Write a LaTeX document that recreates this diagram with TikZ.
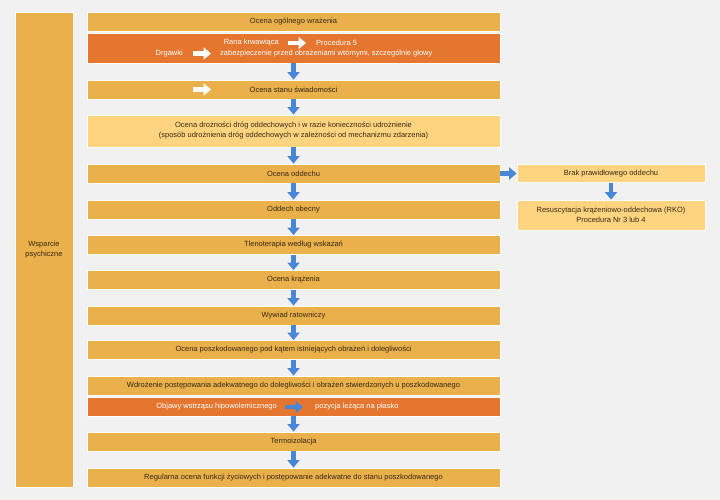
\documentclass[tikz,border=0pt]{standalone}
\usepackage{fontspec}
\setmainfont{Liberation Sans}
\usetikzlibrary{arrows.meta,shadows}
\definecolor{tlo}{RGB}{241,241,241}
\definecolor{zolty}{RGB}{233,176,76}
\definecolor{pomar}{RGB}{229,118,47}
\definecolor{jasny}{RGB}{255,212,128}
\definecolor{niebieski}{RGB}{74,134,214}
\definecolor{tekst}{RGB}{55,40,20}
\begin{document}
\begin{tikzpicture}[x=1pt,y=-1pt,>={Triangle[width=12pt,length=7.5pt]},
	pole/.style={rectangle,draw=white,line width=0.8pt,fill=zolty,text=tekst,font=\fontsize{7.5}{10}\selectfont,align=center,inner sep=0pt,minimum height=19pt,drop shadow={shadow xshift=0.8pt,shadow yshift=-0.9pt,opacity=0.12}},
	szer/.style={pole,minimum width=413pt},
	bialy/.style={text=white,inner sep=0pt,font=\fontsize{7.5}{10}\selectfont},
	strz/.style={niebieski,line width=4.5pt,->},
	bstrz/.style={white,line width=4.5pt,->}]
						\fill[tlo] (0,0) rectangle (720,500);
						\useasboundingbox (0,0) rectangle (720,500);
						\node[pole,minimum width=58pt,minimum height=475pt] (wsparcie) at (44,249.5) {Wsparcie\\psychiczne};
						\node[szer] (ogolne) at (293.5,21.5) {Ocena ogólnego wrażenia};
						\node[szer,fill=pomar,minimum height=30pt] (drgawki) at (293.5,48) {};
						\node[bialy,anchor=east] (rana) at (279,43) {Rana krwawiąca};
						\node[bialy,anchor=west] (proc5) at (316,43) {Procedura 5};
						\node[bialy,anchor=east] (drg) at (183,53.5) {Drgawki};
						\node[bialy,anchor=west] (zabezp) at (220,53.5) {zabezpieczenie przed obrażeniami wtórnymi, szczególnie głowy};
						\node[szer] (swiad) at (293.5,89.5) {Ocena stanu świadomości};
						\coordinate (s1) at (193,89.5);
						\coordinate (s2) at (211,89.5);
						\node[szer,fill=jasny,minimum height=32pt] (droznosc) at (293.5,131) {Ocena drożności dróg oddechowych i w razie konieczności udrożnienie\\(sposób udrożnienia dróg oddechowych w zależności od mechanizmu zdarzenia)};
						\node[szer] (oddech) at (293.5,173.5) {Ocena oddechu};
						\node[szer] (obecny) at (293.5,209.5) {Oddech obecny};
						\node[szer] (tlen) at (293.5,245) {Tlenoterapia według wskazań};
						\node[szer] (krazenie) at (293.5,280) {Ocena krążenia};
						\node[szer] (wywiad) at (293.5,315.5) {Wywiad ratowniczy};
						\node[szer] (obrazenia) at (293.5,350) {Ocena poszkodowanego pod kątem istniejących obrażeń i dolegliwości};
						\node[szer] (wdrozenie) at (293.5,385.5) {Wdrożenie postępowania adekwatnego do dolegliwości i obrażeń stwierdzonych u poszkodowanego};
						\node[szer,fill=pomar] (wstrzas) at (293.5,406.5) {};
						\node[bialy,anchor=east] (objawy) at (277,407) {Objawy wstrząsu hipowolemicznego};
						\node[bialy,anchor=west] (pozycja) at (315,407) {pozycja leżąca na płasko};
						\node[szer] (termo) at (293.5,441.5) {Termoizolacja};
						\node[szer] (regularna) at (293.5,477.5) {Regularna ocena funkcji życiowych i postępowanie adekwatne do stanu poszkodowanego};
						\node[pole,fill=jasny,minimum width=188pt,minimum height=18pt] (brak) at (611,173.5) {Brak prawidłowego oddechu};
						\node[pole,fill=jasny,minimum width=188pt,minimum height=30pt] (rko) at (611,215) {Resuscytacja krążeniowo-oddechowa (RKO)\\Procedura Nr 3 lub 4};
						\foreach \a/\b in {drgawki/swiad,swiad/droznosc,droznosc/oddech,oddech/obecny,obecny/tlen,tlen/krazenie,krazenie/wywiad,wywiad/obrazenia,obrazenia/wdrozenie,wstrzas/termo,termo/regularna,oddech/brak,brak/rko}
							\draw[strz] (\a) -- (\b);
						\draw[bstrz,shorten <=9pt,shorten >=10pt] (rana) -- (proc5);
						\draw[bstrz,shorten <=10pt,shorten >=9pt] (drg) -- (zabezp);
						\draw[bstrz] (s1) -- (s2);
						\draw[strz,shorten <=8pt,shorten >=12pt] (objawy) -- (pozycja);
					\end{tikzpicture}
\end{document}
